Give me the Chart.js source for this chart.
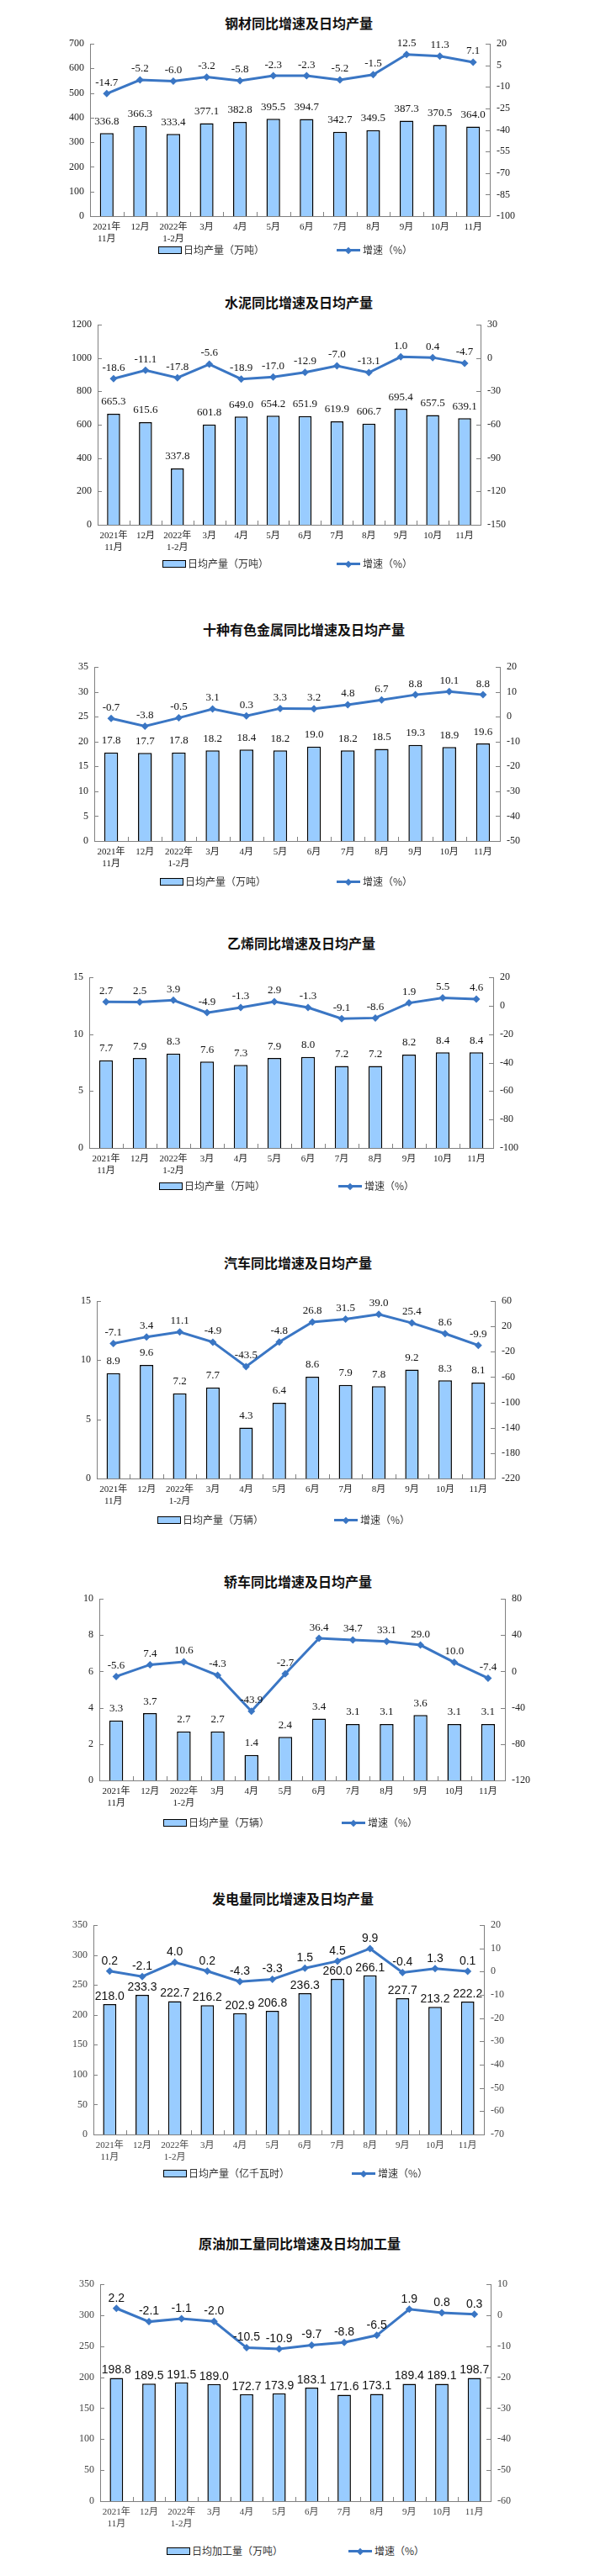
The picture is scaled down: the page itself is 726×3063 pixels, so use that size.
<!DOCTYPE html>
<html>
<head>
<meta charset="utf-8">
<script src="https://cdn.jsdelivr.net/npm/chart.js@4.4.1/dist/chart.umd.min.js"></script>
<style>
  html, body { margin: 0; padding: 0; background: #fff; }
  #page { position: relative; width: 726px; height: 3063px; background: #fff; overflow: hidden; }
  .title { position: absolute; width: 440px; text-align: center; font: bold 16px "Noto Sans CJK SC", sans-serif; color: #111; line-height: 22px; white-space: nowrap; }
  .cv { position: absolute; left: 0; }
  .sw { position: absolute; width: 26px; height: 7px; border: 1px solid #000; background: #99ccff; }
  .ln { position: absolute; width: 28px; height: 3px; background: #3a76c4; }
  .dm { position: absolute; width: 6px; height: 6px; background: #3a76c4; transform: rotate(45deg); }
  .lt { position: absolute; font: 12px "Noto Sans CJK SC", sans-serif; color: #333; line-height: 16px; white-space: nowrap; }
</style>
</head>
<body>
<div id="page"></div>
<script>
// ---------- categories ----------
const categories = [["2021年","11月"],"12月",["2022年","1-2月"],"3月","4月","5月","6月","7月","8月","9月","10月","11月"];

// ---------- 钢材 ----------
const steelOutput = [336.8, 366.3, 333.4, 377.1, 382.8, 395.5, 394.7, 342.7, 349.5, 387.3, 370.5, 364.0];
const steelGrowth = [-14.7, -5.2, -6.0, -3.2, -5.8, -2.3, -2.3, -5.2, -1.5, 12.5, 11.3, 7.1];
const steelLeftTicks = [0, 100, 200, 300, 400, 500, 600, 700];
const steelRightTicks = [-100, -85, -70, -55, -40, -25, -10, 5, 20];

// ---------- 水泥 ----------
const cementOutput = [665.3, 615.6, 337.8, 601.8, 649.0, 654.2, 651.9, 619.9, 606.7, 695.4, 657.5, 639.1];
const cementGrowth = [-18.6, -11.1, -17.8, -5.6, -18.9, -17.0, -12.9, -7.0, -13.1, 1.0, 0.4, -4.7];
const cementLeftTicks = [0, 200, 400, 600, 800, 1000, 1200];
const cementRightTicks = [-150, -120, -90, -60, -30, 0, 30];

// ---------- 十种有色金属 ----------
const metalsOutput = [17.8, 17.7, 17.8, 18.2, 18.4, 18.2, 19.0, 18.2, 18.5, 19.3, 18.9, 19.6];
const metalsGrowth = [-0.7, -3.8, -0.5, 3.1, 0.3, 3.3, 3.2, 4.8, 6.7, 8.8, 10.1, 8.8];
const metalsLeftTicks = [0, 5, 10, 15, 20, 25, 30, 35];
const metalsRightTicks = [-50, -40, -30, -20, -10, 0, 10, 20];

// ---------- 乙烯 ----------
const ethyleneOutput = [7.7, 7.9, 8.3, 7.6, 7.3, 7.9, 8.0, 7.2, 7.2, 8.2, 8.4, 8.4];
const ethyleneGrowth = [2.7, 2.5, 3.9, -4.9, -1.3, 2.9, -1.3, -9.1, -8.6, 1.9, 5.5, 4.6];
const ethyleneLeftTicks = [0, 5, 10, 15];
const ethyleneRightTicks = [-100, -80, -60, -40, -20, 0, 20];

// ---------- 汽车 ----------
const autoOutput = [8.9, 9.6, 7.2, 7.7, 4.3, 6.4, 8.6, 7.9, 7.8, 9.2, 8.3, 8.1];
const autoGrowth = [-7.1, 3.4, 11.1, -4.9, -43.5, -4.8, 26.8, 31.5, 39.0, 25.4, 8.6, -9.9];
const autoLeftTicks = [0, 5, 10, 15];
const autoRightTicks = [-220, -180, -140, -100, -60, -20, 20, 60];

// ---------- 轿车 ----------
const sedanOutput = [3.3, 3.7, 2.7, 2.7, 1.4, 2.4, 3.4, 3.1, 3.1, 3.6, 3.1, 3.1];
const sedanGrowth = [-5.6, 7.4, 10.6, -4.3, -43.9, -2.7, 36.4, 34.7, 33.1, 29.0, 10.0, -7.4];
const sedanLeftTicks = [0, 2, 4, 6, 8, 10];
const sedanRightTicks = [-120, -80, -40, 0, 40, 80];

// ---------- 发电量 ----------
const powerOutput = [218.0, 233.3, 222.7, 216.2, 202.9, 206.8, 236.3, 260.0, 266.1, 227.7, 213.2, 222.2];
const powerGrowth = [0.2, -2.1, 4.0, 0.2, -4.3, -3.3, 1.5, 4.5, 9.9, -0.4, 1.3, 0.1];
const powerLeftTicks = [0, 50, 100, 150, 200, 250, 300, 350];
const powerRightTicks = [-70, -60, -50, -40, -30, -20, -10, 0, 10, 20];

// ---------- 原油加工量 ----------
const crudeOutput = [198.8, 189.5, 191.5, 189.0, 172.7, 173.9, 183.1, 171.6, 173.1, 189.4, 189.1, 198.7];
const crudeGrowth = [2.2, -2.1, -1.1, -2.0, -10.5, -10.9, -9.7, -8.8, -6.5, 1.9, 0.8, 0.3];
const crudeLeftTicks = [0, 50, 100, 150, 200, 250, 300, 350];
const crudeRightTicks = [-60, -50, -40, -30, -20, -10, 0, 10];

// ---------- chart definitions (texts + data refs) ----------
const chartDefs = [
  { title: "钢材同比增速及日均产量", barLabel: "日均产量（万吨）", out: steelOutput, gr: steelGrowth, lt: steelLeftTicks, rt: steelRightTicks },
  { title: "水泥同比增速及日均产量", barLabel: "日均产量（万吨）", out: cementOutput, gr: cementGrowth, lt: cementLeftTicks, rt: cementRightTicks },
  { title: "十种有色金属同比增速及日均产量", barLabel: "日均产量（万吨）", out: metalsOutput, gr: metalsGrowth, lt: metalsLeftTicks, rt: metalsRightTicks },
  { title: "乙烯同比增速及日均产量", barLabel: "日均产量（万吨）", out: ethyleneOutput, gr: ethyleneGrowth, lt: ethyleneLeftTicks, rt: ethyleneRightTicks },
  { title: "汽车同比增速及日均产量", barLabel: "日均产量（万辆）", out: autoOutput, gr: autoGrowth, lt: autoLeftTicks, rt: autoRightTicks },
  { title: "轿车同比增速及日均产量", barLabel: "日均产量（万辆）", out: sedanOutput, gr: sedanGrowth, lt: sedanLeftTicks, rt: sedanRightTicks },
  { title: "发电量同比增速及日均产量", barLabel: "日均产量（亿千瓦时）", out: powerOutput, gr: powerGrowth, lt: powerLeftTicks, rt: powerRightTicks },
  { title: "原油加工量同比增速及日均加工量", barLabel: "日均加工量（万吨）", out: crudeOutput, gr: crudeGrowth, lt: crudeLeftTicks, rt: crudeRightTicks }
];
const lineLabel = "增速（%）";

// ---------- layout (positions / styles) ----------
const layouts = [
  { tx: 355, ty: 27,   L: 107, R: 582, T: 52,   B: 257,  ly: 297,  sw: 188, lw: 400, sans: false, tick: "#222" },
  { tx: 355, ty: 359,  L: 116, R: 571, T: 386,  B: 624,  ly: 670,  sw: 193, lw: 400, sans: false, tick: "#222" },
  { tx: 361, ty: 748,  L: 112, R: 594, T: 793,  B: 1000, ly: 1048, sw: 190, lw: 400, sans: false, tick: "#222" },
  { tx: 358, ty: 1121, L: 106, R: 586, T: 1162, B: 1365, ly: 1410, sw: 189, lw: 402, sans: false, tick: "#222" },
  { tx: 354, ty: 1501, L: 115, R: 588, T: 1547, B: 1758, ly: 1807, sw: 187, lw: 397, sans: false, tick: "#222" },
  { tx: 354, ty: 1880, L: 118, R: 600, T: 1901, B: 2117, ly: 2167, sw: 194, lw: 406, sans: false, tick: "#222" },
  { tx: 348, ty: 2257, L: 111, R: 575, T: 2289, B: 2538, ly: 2584, sw: 194, lw: 418, sans: true,  tick: "#444" },
  { tx: 356, ty: 2667, L: 119, R: 583, T: 2716, B: 2974, ly: 3033, sw: 198, lw: 414, sans: true,  tick: "#444" }
];

const BLUE = "#3a76c4";
const BARFILL = "#99ccff";
const AXIS = "#808080";
const SERIF = '"Liberation Serif", "Times New Roman", "Noto Sans CJK SC", serif';
const SANS = '"Liberation Sans", Arial, "Noto Sans CJK SC", sans-serif';

// value labels plugin
const valueLabels = {
  id: "valueLabels",
  afterDatasetsDraw(chart, args, opts) {
    const ctx = chart.ctx;
    chart.data.datasets.forEach((ds, i) => {
      const meta = chart.getDatasetMeta(i);
      if (meta.hidden) return;
      ctx.save();
      ctx.font = opts.font;
      ctx.fillStyle = opts.color;
      ctx.textAlign = "center";
      ctx.textBaseline = "middle";
      const off = ds.type === "bar" ? opts.barOffset : opts.lineOffset;
      meta.data.forEach((el, j) => {
        ctx.fillText(Number(ds.data[j]).toFixed(1), el.x, el.y - off);
      });
      ctx.restore();
    });
  }
};

// inward tick marks plugin
const innerTicks = {
  id: "innerTicks",
  afterDraw(chart) {
    const { ctx, chartArea: a, scales } = chart;
    ctx.save();
    ctx.strokeStyle = AXIS;
    ctx.lineWidth = 1;
    ctx.beginPath();
    scales.y.ticks.forEach(t => {
      const py = Math.round(scales.y.getPixelForValue(t.value)) + 0.5;
      ctx.moveTo(a.left, py); ctx.lineTo(a.left + 5, py);
    });
    scales.y1.ticks.forEach(t => {
      const py = Math.round(scales.y1.getPixelForValue(t.value)) + 0.5;
      ctx.moveTo(a.right, py); ctx.lineTo(a.right - 5, py);
    });
    const x = scales.x;
    const n = chart.data.labels.length;
    const w = x.getPixelForValue(1) - x.getPixelForValue(0);
    for (let i = 0; i <= n; i++) {
      const px = Math.round(x.getPixelForValue(0) - w / 2 + i * w) + 0.5;
      ctx.moveTo(px, a.bottom); ctx.lineTo(px, a.bottom - 5);
    }
    ctx.stroke();
    ctx.restore();
  }
};

const page = document.getElementById("page");
const W = 726;
const PADTOP = 20;
const XH = 42;

function addDiv(cls, styles, text) {
  const d = document.createElement("div");
  d.className = cls;
  Object.assign(d.style, styles);
  if (text) d.textContent = text;
  page.appendChild(d);
  return d;
}

const plainTick = v => String(v);

chartDefs.forEach((def, k) => {
  const lay = layouts[k];
  // title
  addDiv("title", { left: (lay.tx - 220) + "px", top: (lay.ty - 11) + "px" }, def.title);

  // canvas
  const top = lay.T - PADTOP;
  const H = (lay.B - lay.T) + PADTOP + XH;
  const wrap = addDiv("cv", { top: top + "px", width: W + "px", height: H + "px" });
  const cv = document.createElement("canvas");
  cv.width = W; cv.height = H;
  cv.style.width = W + "px"; cv.style.height = H + "px";
  wrap.appendChild(cv);

  const lt = def.lt, rt = def.rt;
  const labelFont = lay.sans ? ("14px " + SANS) : ("13px " + SERIF);
  const barOff = lay.sans ? 9 : 14;
  const lineOff = lay.sans ? 12 : 13;

  new Chart(cv.getContext("2d"), {
    data: {
      labels: categories,
      datasets: [
        {
          type: "line", label: lineLabel, data: def.gr, yAxisID: "y1", order: 0,
          borderColor: BLUE, backgroundColor: BLUE, borderWidth: 3, tension: 0,
          pointStyle: "rectRot", pointRadius: 4.5, pointBackgroundColor: BLUE, pointBorderWidth: 0
        },
        {
          type: "bar", label: def.barLabel, data: def.out, yAxisID: "y", order: 1,
          backgroundColor: BARFILL, borderColor: "#000", borderWidth: 1.5, borderSkipped: "bottom",
          barPercentage: 0.41, categoryPercentage: 1
        }
      ]
    },
    options: {
      responsive: false,
      animation: false,
      devicePixelRatio: window.devicePixelRatio || 1,
      layout: { padding: { top: PADTOP, left: 0, right: 0, bottom: 0 } },
      plugins: {
        legend: { display: false },
        title: { display: false },
        tooltip: { enabled: false },
        valueLabels: { font: labelFont, color: "#111", barOffset: barOff, lineOffset: lineOff }
      },
      scales: {
        x: {
          type: "category", offset: true,
          grid: { display: false, drawTicks: false },
          border: { display: true, color: AXIS, width: 1 },
          ticks: { color: lay.tick, font: { family: SERIF, size: 11, lineHeight: 1.27 }, padding: 6, maxRotation: 0, autoSkip: false },
          afterFit(s) { s.height = XH; }
        },
        y: {
          type: "linear", position: "left",
          min: lt[0], max: lt[lt.length - 1],
          ticks: { stepSize: lt[1] - lt[0], color: lay.tick, font: { family: SERIF, size: 12 }, padding: 7, callback: plainTick },
          grid: { display: false, drawTicks: false },
          border: { display: true, color: AXIS, width: 1 },
          afterFit(s) { s.width = lay.L; }
        },
        y1: {
          type: "linear", position: "right",
          min: rt[0], max: rt[rt.length - 1],
          ticks: { stepSize: rt[1] - rt[0], color: lay.tick, font: { family: SERIF, size: 12 }, padding: 8, callback: plainTick },
          grid: { display: false, drawTicks: false },
          border: { display: true, color: AXIS, width: 1 },
          afterFit(s) { s.width = W - lay.R; }
        }
      }
    },
    plugins: [valueLabels, innerTicks]
  });

  // legend (HTML)
  addDiv("sw", { left: lay.sw + "px", top: (lay.ly - 4) + "px" });
  addDiv("lt", { left: (lay.sw + 30) + "px", top: (lay.ly - 8) + "px" }, def.barLabel);
  addDiv("ln", { left: lay.lw + "px", top: (lay.ly - 1) + "px" });
  addDiv("dm", { left: (lay.lw + 11) + "px", top: (lay.ly - 2.5) + "px" });
  addDiv("lt", { left: (lay.lw + 31) + "px", top: (lay.ly - 8) + "px" }, lineLabel);
});
</script>
</body>
</html>
